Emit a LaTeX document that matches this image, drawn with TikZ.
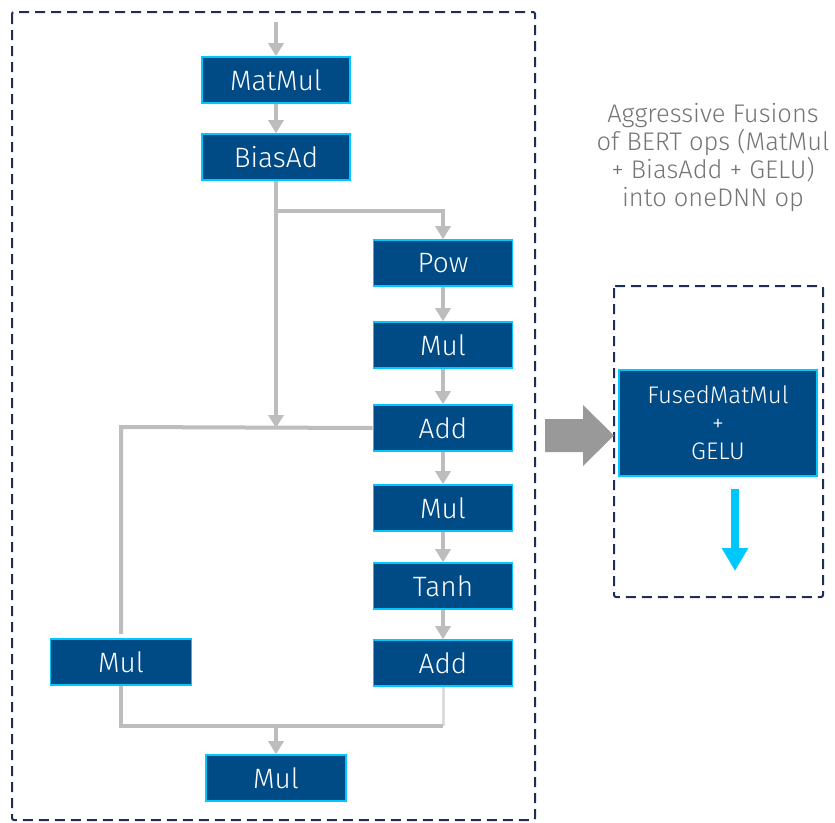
\documentclass[tikz,border=0pt]{standalone}
\usepackage{fontspec}
\setmainfont{Fira Sans}[UprightFont=* Light]
\usetikzlibrary{arrows.meta}
\definecolor{opblue}{HTML}{004A86}
\definecolor{opedge}{HTML}{00C7FD}
\definecolor{wire}{HTML}{BDBDBD}
\definecolor{wirelight}{HTML}{DCDCDC}
\definecolor{frame}{HTML}{1F2D5A}
\definecolor{fusegray}{HTML}{999999}
\definecolor{note}{HTML}{757575}
\begin{document}
\begin{tikzpicture}[x=1pt,y=-1pt,
  opbox/.style={draw=opedge, line width=1.6pt, fill=opblue, text=white,
    minimum width=148pt, minimum height=46pt, inner sep=0pt,
    font=\fontsize{28}{30}\selectfont},
  frm/.style={draw=frame, line width=2pt, dash pattern=on 10pt off 6pt, rounded corners=2pt},
  wireline/.style={draw=wire, line width=4pt},
  flow/.style={wireline, -{Triangle[width=15pt,length=13pt]}},
]
\useasboundingbox (0,0) rectangle (835,822);

% dashed frames
\draw[frm] (12,12) rectangle (535,820);
\draw[frm] (614,286) rectangle (823,597);

% operator boxes of the unfused graph
\node[opbox] (mm)   at (276,80)  {MatMul};
\node[opbox] (ba)   at (276,157) {BiasAd};
\node[opbox, minimum width=139pt] (pow)  at (443,263) {Pow};
\node[opbox, minimum width=139pt] (mul1) at (443,345) {Mul};
\node[opbox, minimum width=139pt] (add1) at (443,428) {Add};
\node[opbox, minimum width=139pt] (mul2) at (443,508) {Mul};
\node[opbox, minimum width=139pt] (tanh) at (443,586) {Tanh};
\node[opbox, minimum width=139pt] (add2) at (443,663) {Add};
\node[opbox, minimum width=141pt] (mulL) at (121,662) {Mul};
\node[opbox, minimum width=140pt] (mulB) at (276,778) {Mul};

% fused operator
\node[opbox, minimum width=198pt, minimum height=106pt, align=center,
  font=\fontsize{24}{28}\selectfont] (fused) at (718,423) {FusedMatMul\\+\\GELU};

% explanatory note
\node[text=note, align=center, font=\fontsize{25.5}{28}\selectfont] (txt) at (713,158)
  {Aggressive Fusions\\of BERT ops (MatMul\\+ BiasAdd + GELU)\\into oneDNN op};

% helper points
\coordinate (in)    at (276,22);
\coordinate (split) at (276,211);
\coordinate (join)  at (276,427);
\coordinate (left)  at (121,427);
\coordinate (merge) at (276,726);
\coordinate (corner) at (443,726);
\coordinate (out0)  at (735,489);
\coordinate (out1)  at (735,571);

% connectors
\draw[flow] (in) -- (mm.north);
\draw[flow] (mm) -- (ba);
\draw[wireline] (ba.south) -- (split);
\draw[flow] (split) -| (pow.north);
\draw[flow] (split) -- ([yshift=-1pt]join);
\draw[flow] (pow) -- (mul1);
\draw[flow] (mul1) -- (add1);
\draw[flow] (add1) -- (mul2);
\draw[flow] (mul2) -- (tanh);
\draw[flow] (tanh) -- (add2);
\draw[wireline, shorten >=4pt] (add1.west) -- (left) -- (mulL.north);
\draw[draw=wirelight, line width=3pt] (add2.south) -- (corner);
\draw[wireline] (mulL.south) |- (corner);
\draw[flow] (merge) -- (mulB.north);

% fusion arrow
\fill[fusegray] (545,419) -- (583,419) -- (583,405) -- (614,435.5)
  -- (583,466) -- (583,452) -- (545,452) -- cycle;

% output of the fused op
\draw[draw=opedge, line width=8pt, -{Triangle[width=25pt,length=23pt]}] (out0) -- (out1);
\end{tikzpicture}
\end{document}
